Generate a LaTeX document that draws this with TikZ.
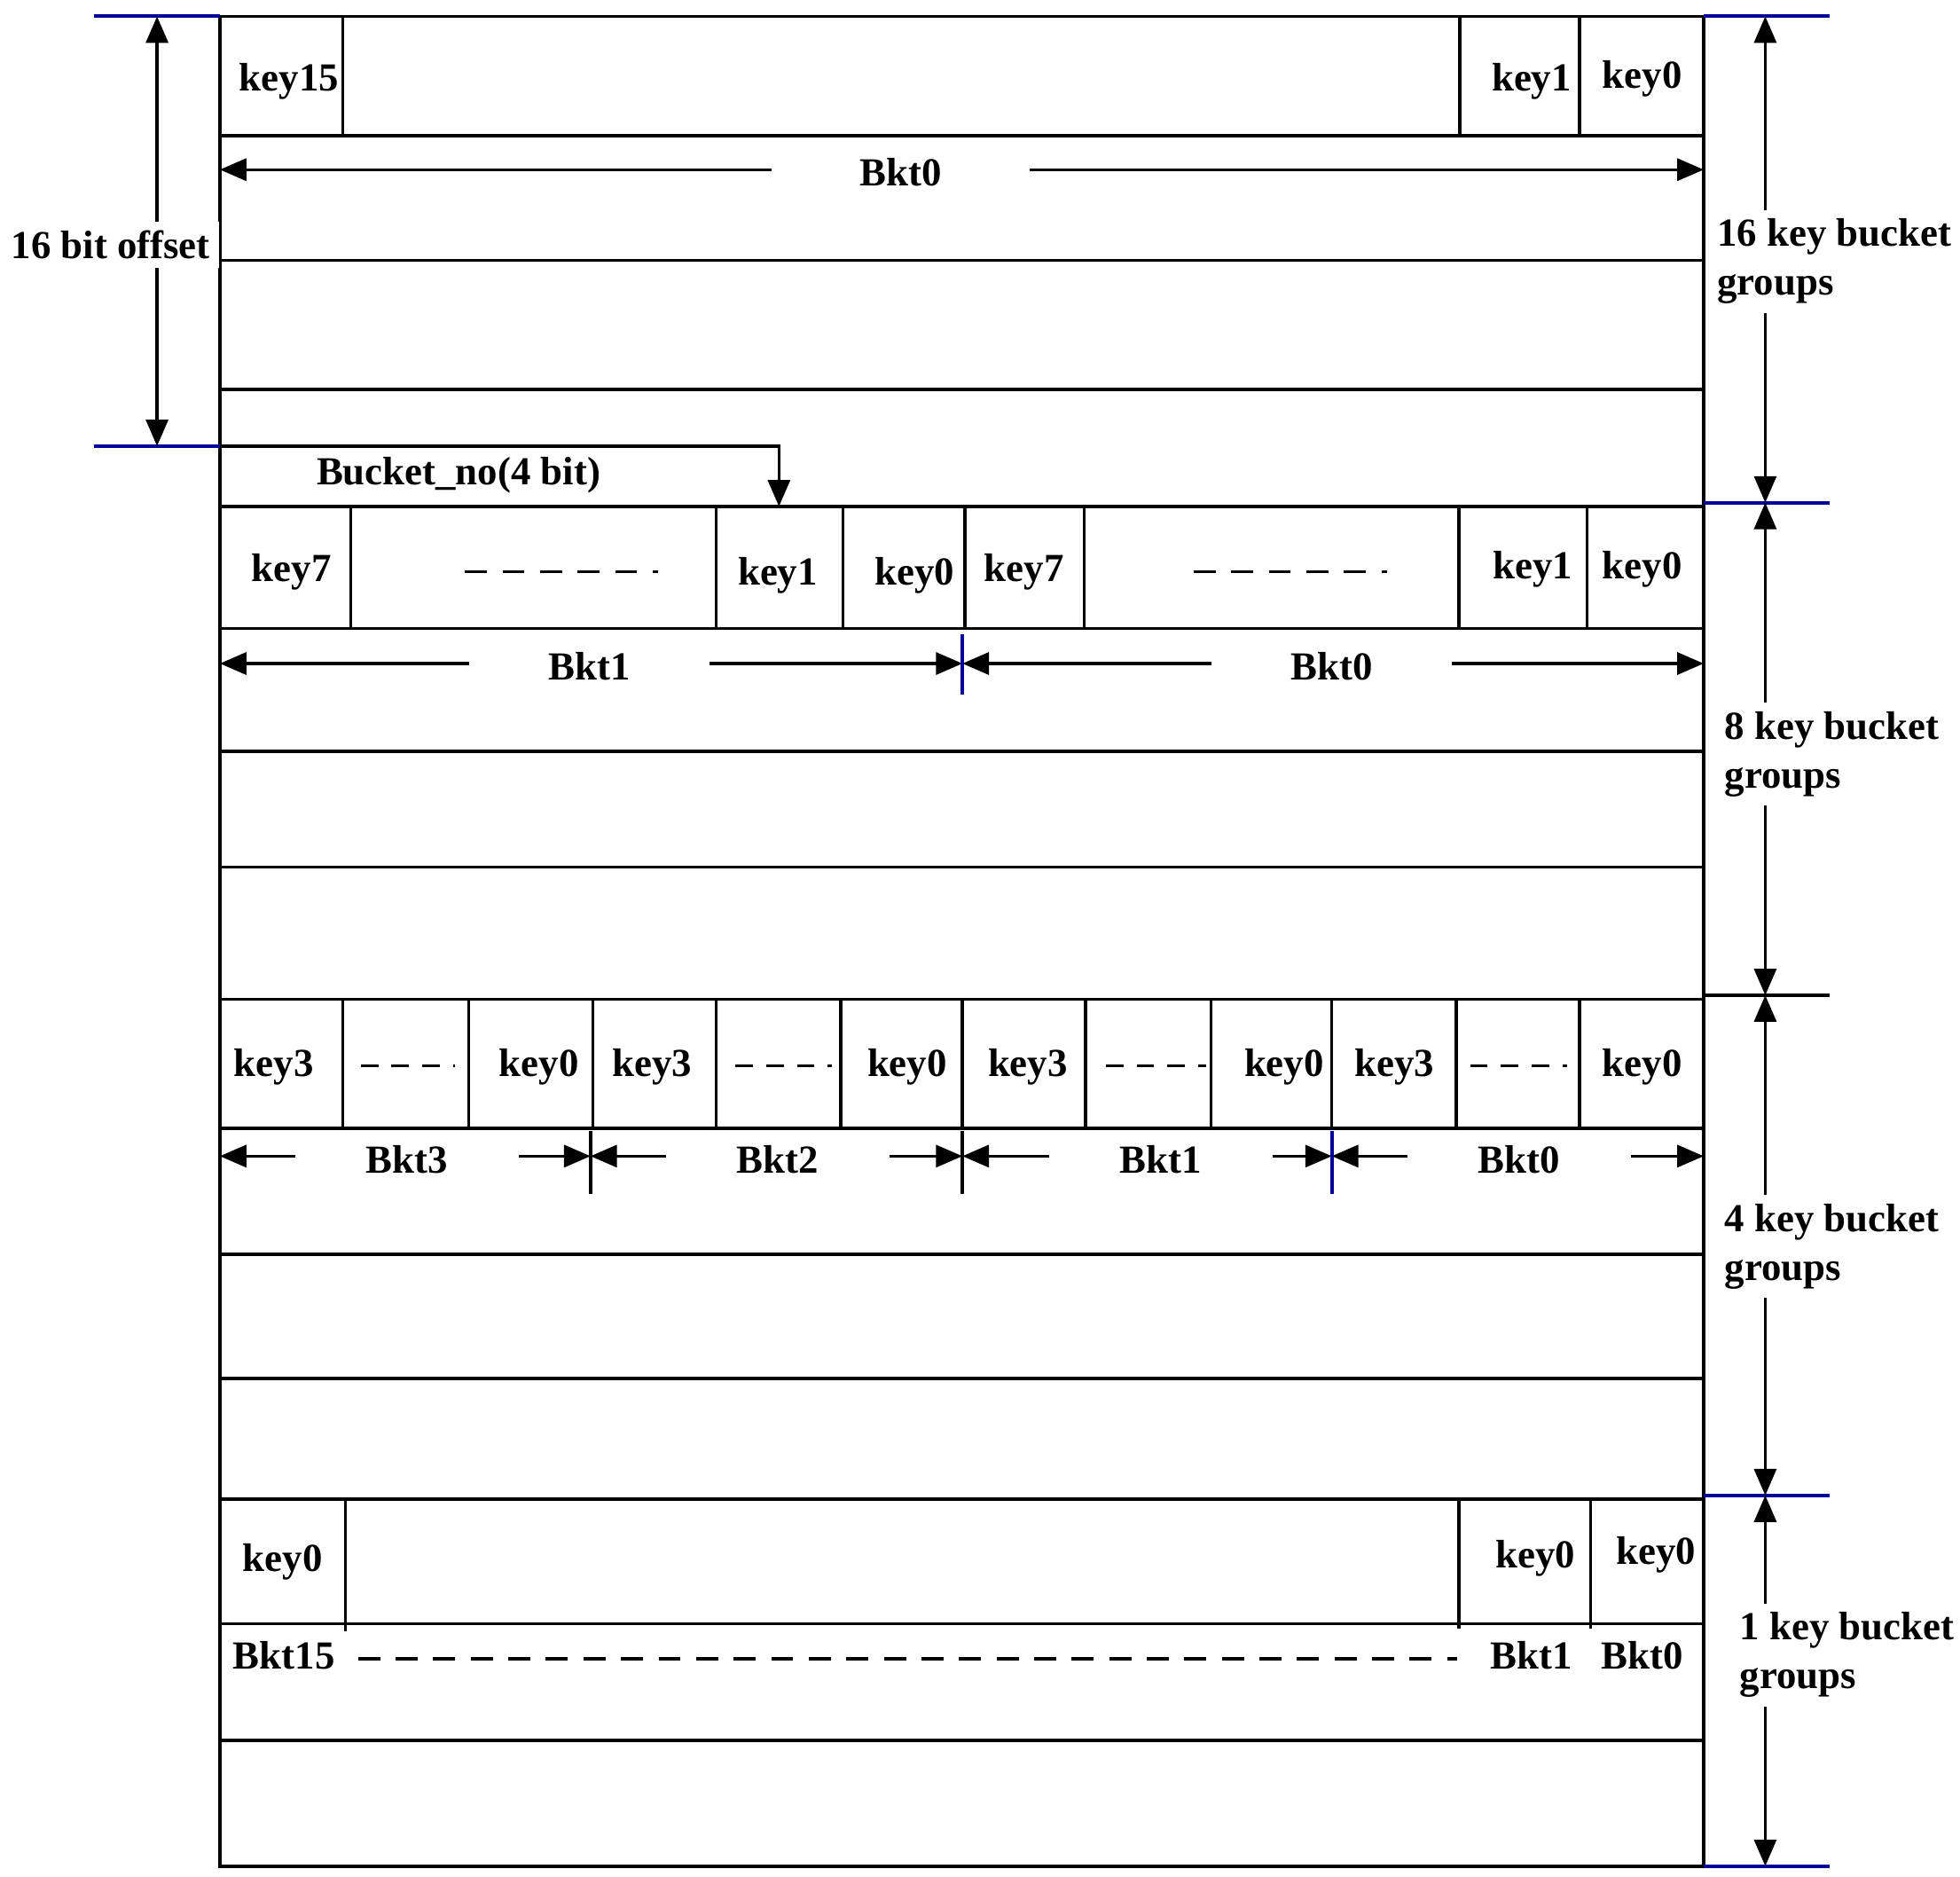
\documentclass[tikz,border=0pt]{standalone}
\usepackage{fontspec}
\setmainfont{Liberation Serif}
\usetikzlibrary{arrows.meta}
\begin{document}
\begin{tikzpicture}[x=0.01cm,y=-0.01cm,line width=0.7pt,
  font=\fontsize{9}{11}\selectfont\bfseries,
  arr/.style={{Triangle[length=6pt,width=5pt]}-{Triangle[length=6pt,width=5pt]}},
  lbl/.style={fill=white,inner xsep=6pt,inner ysep=1pt},
  grp/.style={fill=white,align=left,inner sep=2pt},
  blu/.style={draw=blue!60!black,line width=0.8pt},
  dsh/.style={dash pattern=on 5pt off 3.5pt}]
\useasboundingbox (0,0) rectangle (1560,1493);
\draw (175,13) rectangle (1356,1485);
% horizontal lines
\foreach \y in {108,207,310,403,500,598,690,795,898,998,1097,1193,1292,1385}
  \draw (175,\y) -- (1356,\y);
% group 1
\draw (273,13)--(273,108) (1162,13)--(1162,108) (1257,13)--(1257,108);
\node (k15) at (230,65) {key15};
\node (k1a) at (1219,65) {key1};
\node (k0a) at (1307,63) {key0};
\draw[arr] (175,135) coordinate (a1) -- (1356,135) coordinate (a2);
\node[lbl,inner xsep=20pt] (b0a) at (717,137) {Bkt0};
% left offset
\draw[blu] (75,13)--(175,13) (75,355)--(175,355);
\draw[arr] (125,13) -- (125,355);
\node[fill=white,inner sep=2pt] (off) at (88,195) {16 bit offset};
% bucket no
\node (bn) at (365,378) {Bucket\_no(4 bit)};
\draw[-{Triangle[length=6pt,width=5pt]}] (175,355) -- (620,355) -- (620,403);
% group 2
\foreach \x in {279,570,671,768,863,1161,1263} \draw (\x,403)--(\x,500);
\node at (232,455) {key7};
\draw[dsh] (370,455)--(524,455);
\node at (619,458) {key1};
\node at (728,458) {key0};
\node at (815,455) {key7};
\draw[dsh] (950,455)--(1104,455);
\node at (1220,453) {key1};
\node at (1307,453) {key0};
\draw[arr] (175,528)--(766,528);
\draw[arr] (766,528)--(1356,528);
\draw[blu] (766,505)--(766,553);
\node[lbl,inner xsep=18pt] at (469,530) {Bkt1};
\node[lbl,inner xsep=18pt] at (1060,530) {Bkt0};
% group 3
\foreach \x in {273,373,472,570,669,766,864,964,1060,1159,1257} \draw (\x,795)--(\x,898);
\foreach \x/\t in {218/key3,429/key0,519/key3,722/key0,818/key3,1022/key0,1110/key3,1307/key0}
  \node at (\x,849) {\t};
\foreach \a/\b in {287/362,585/662,880/960,1170/1247} \draw[dash pattern=on 4pt off 3pt] (\a,848)--(\b,848);
\draw[arr] (175,920)--(470,920);
\draw[arr] (470,920)--(766,920);
\draw[arr] (766,920)--(1060,920);
\draw[arr] (1060,920)--(1356,920);
\draw (470,900)--(470,950) (766,900)--(766,950);
\draw[blu] (1060,900)--(1060,950);
\foreach \x/\t in {324/Bkt3,619/Bkt2,924/Bkt1,1209/Bkt0} \node[lbl,inner xsep=16pt] at (\x,923) {\t};
% group 4
\draw (275,1193)--(275,1298) (1161,1193)--(1161,1296) (1266,1193)--(1266,1296);
\node at (225,1243) {key0};
\node at (1222,1240) {key0};
\node at (1318,1237) {key0};
\node (b15) at (226,1317) {Bkt15};
\draw[dsh] (285,1320)--(1160,1320);
\node at (1219,1317) {Bkt1};
\node at (1307,1317) {Bkt0};
% right side
\draw[blu] (1356,13)--(1456,13) (1356,400)--(1456,400) (1356,1190)--(1456,1190) (1356,1485)--(1456,1485);
\draw (1356,792)--(1456,792);
\draw[arr] (1405,13)--(1405,400);
\draw[arr] (1405,400)--(1405,792);
\draw[arr] (1405,792)--(1405,1190);
\draw[arr] (1405,1190)--(1405,1485);
\node[grp] at (1460,208) {16 key bucket\\groups};
\node[grp] at (1458,600) {8 key bucket\\groups};
\node[grp] at (1458,992) {4 key bucket\\groups};
\node[grp] at (1470,1317) {1 key bucket\\groups};
\end{tikzpicture}
\end{document}
